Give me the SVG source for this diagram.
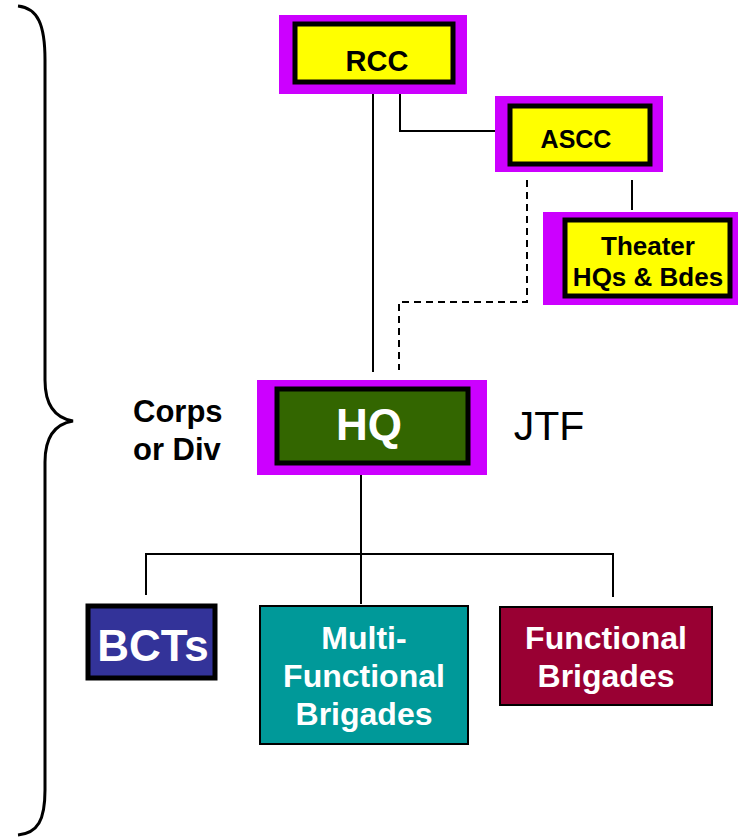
<svg xmlns="http://www.w3.org/2000/svg" width="738" height="840" viewBox="0 0 738 840">
<style>
.pur{fill:#cc00ff}
.yel{fill:#ffff00;stroke:#000;stroke-width:5}
.t{font-family:"Liberation Sans",Arial,sans-serif;font-weight:bold;text-anchor:middle}
.s{text-anchor:start}
.w{fill:#fff}
.ln{stroke:#000;stroke-width:2;fill:none}
</style>
<rect width="738" height="840" fill="#fff"/>
<g id="brace">
<path d="M18,6 C38,8 45,25 45,60 L45,380 C45,405 55,418 73,421 C55,424 45,437 45,462 L45,790 C45,820 38,833 18,835" fill="none" stroke="#000" stroke-width="3"/>
</g>
<g id="connectors">
<path class="ln" d="M373,94 V372"/>
<path class="ln" d="M400,94 V131 H495"/>
<path class="ln" d="M632,180 V210"/>
<path class="ln" d="M527,180 V302 H399 V370" stroke-dasharray="7,5"/>
<path class="ln" d="M361,475 V604"/>
<path class="ln" d="M146,595 V554 H613 V597"/>
</g>
<g id="rcc">
<rect class="pur" x="279" y="15" width="188" height="79"/>
<rect class="yel" x="295" y="24" width="158" height="58"/>
<text class="t" x="377" y="71" font-size="29">RCC</text>
</g>
<g id="ascc">
<rect class="pur" x="495" y="96" width="168" height="76"/>
<rect class="yel" x="510" y="106" width="140" height="58"/>
<text class="t" x="576" y="148" font-size="25">ASCC</text>
</g>
<g id="theater">
<rect class="pur" x="543" y="212" width="195" height="93"/>
<rect class="yel" x="565" y="220" width="165" height="76"/>
<text class="t" x="648" y="255" font-size="26">Theater</text>
<text class="t" x="648" y="286" font-size="26">HQs &amp; Bdes</text>
</g>
<g id="hq">
<rect class="pur" x="257" y="380" width="230" height="95"/>
<rect x="277" y="389" width="191" height="74" fill="#336600" stroke="#000" stroke-width="5"/>
<text class="t w" x="369" y="440" font-size="44">HQ</text>
</g>
<g id="corps">
<text class="t s" x="133" y="422" font-size="31">Corps</text>
<text class="t s" x="133" y="460" font-size="31">or Div</text>
</g>
<g id="jtf">
<text x="549" y="440" font-family="Liberation Sans,Arial,sans-serif" font-size="41" text-anchor="middle">JTF</text>
</g>
<g id="bcts">
<rect x="88" y="606" width="127" height="72" fill="#333399" stroke="#000" stroke-width="5"/>
<text class="t w" x="153" y="661" font-size="44">BCTs</text>
</g>
<g id="multi">
<rect x="260" y="606" width="208" height="138" fill="#009999" stroke="#000" stroke-width="2"/>
<text class="t w" x="364" y="649" font-size="32">Multi-</text>
<text class="t w" x="364" y="687" font-size="32">Functional</text>
<text class="t w" x="364" y="725" font-size="32">Brigades</text>
</g>
<g id="functional">
<rect x="500" y="607" width="212" height="98" fill="#990033" stroke="#000" stroke-width="2"/>
<text class="t w" x="606" y="649" font-size="32">Functional</text>
<text class="t w" x="606" y="687" font-size="32">Brigades</text>
</g>
</svg>
